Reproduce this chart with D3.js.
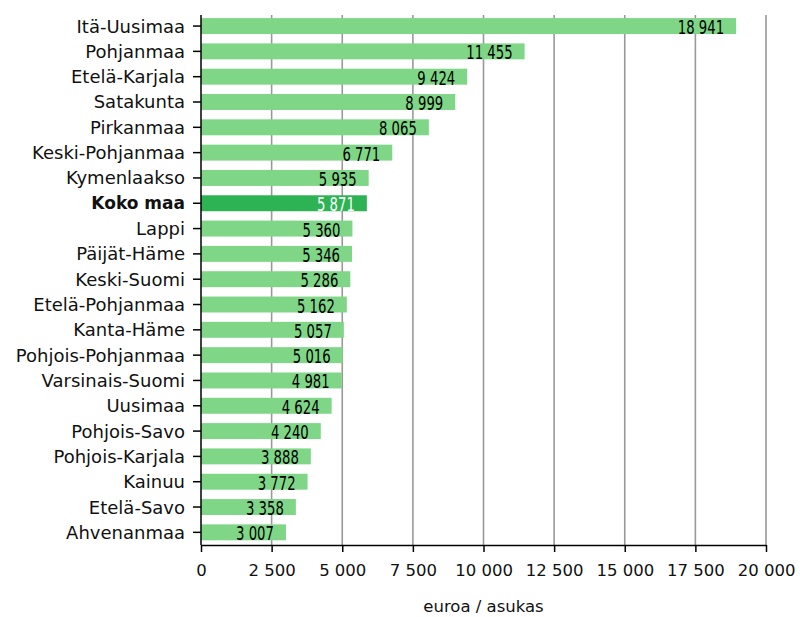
<!DOCTYPE html>
<html>
<head>
<meta charset="utf-8">
<script src="https://cdn.jsdelivr.net/npm/d3@7"></script>
<style>
  body { margin: 0; background: #fff; }
  svg { display: block; }
</style>
</head>
<body>
<svg width="800" height="617"></svg>
<script>
const regions = ["Itä-Uusimaa", "Pohjanmaa", "Etelä-Karjala", "Satakunta", "Pirkanmaa",
  "Keski-Pohjanmaa", "Kymenlaakso", "Koko maa", "Lappi", "Päijät-Häme", "Keski-Suomi",
  "Etelä-Pohjanmaa", "Kanta-Häme", "Pohjois-Pohjanmaa", "Varsinais-Suomi", "Uusimaa",
  "Pohjois-Savo", "Pohjois-Karjala", "Kainuu", "Etelä-Savo", "Ahvenanmaa"];
const values = [18941, 11455, 9424, 8999, 8065, 6771, 5935, 5871, 5360, 5346, 5286,
  5162, 5057, 5016, 4981, 4624, 4240, 3888, 3772, 3358, 3007];
const xTicks = [0, 2500, 5000, 7500, 10000, 12500, 15000, 17500, 20000];
const total = "Koko maa";
const xTitle = "euroa / asukas";

const svg = d3.select("svg");
const mLeft = 201, mRight = 766, mTop = 13.4, mBottom = 545;

const x = d3.scaleLinear().domain([0, 20000]).range([mLeft, mRight]);
const y = d3.scaleBand().domain(regions).range([mTop, mBottom]).paddingInner(0.37).paddingOuter(0.185);

const fmt = v => d3.format(",")(v).replace(/,/g, " ");
const data = regions.map((r, i) => ({ region: r, value: values[i] }));

// grid
svg.append("g")
  .selectAll("line")
  .data(xTicks.filter(t => t > 0))
  .enter()
  .append("line")
  .attr("x1", d => x(d)).attr("x2", d => x(d))
  .attr("y1", 15).attr("y2", mBottom)
  .attr("stroke", "#999")
  .attr("stroke-width", 1.6);

// bars
svg.append("g")
  .selectAll("rect")
  .data(data)
  .enter()
  .append("rect")
  .attr("x", x(0))
  .attr("y", d => y(d.region))
  .attr("width", d => x(d.value) - x(0))
  .attr("height", y.bandwidth())
  .attr("fill", d => d.region === total ? "#2db354" : "#7fd687");

// value labels
svg.append("g")
  .selectAll("text")
  .data(data)
  .enter()
  .append("text")
  .attr("transform", d => `translate(${x(d.value) - 12},${y(d.region) + y.bandwidth() / 2 + 8}) scale(0.92,1.25)`)
  .attr("text-anchor", "end")
  .attr("font-family", "'Liberation Sans Narrow', 'DejaVu Sans Condensed', sans-serif")
  .attr("font-size", 16)
  .attr("fill", d => d.region === total ? "#fff" : "#000")
  .text(d => fmt(d.value));

// y axis
const yAxis = svg.append("g")
  .attr("transform", `translate(${mLeft},0)`)
  .call(d3.axisLeft(y).tickSize(8).tickPadding(8).tickSizeOuter(0));
yAxis.select(".domain").attr("stroke", "#000").attr("stroke-width", 1.5)
  .attr("d", `M0,15V${mBottom}`);
yAxis.selectAll(".tick line").attr("stroke", "#000").attr("stroke-width", 1.5);
yAxis.selectAll(".tick text")
  .attr("font-family", "'DejaVu Sans', sans-serif")
  .attr("font-size", 18)
  .attr("fill", "#111")
  .attr("dy", "0.36em")
  .attr("font-weight", d => d === total ? "bold" : "normal")
  .attr("font-size", d => d === total ? 17 : 18);

// x axis
const xAxis = svg.append("g")
  .attr("transform", `translate(0,${mBottom})`)
  .call(d3.axisBottom(x).tickValues(xTicks).tickFormat(fmt).tickSize(7).tickPadding(12).tickSizeOuter(0));
xAxis.select(".domain").attr("stroke", "#000").attr("stroke-width", 1.5);
xAxis.selectAll(".tick line").attr("stroke", "#000").attr("stroke-width", 1.5);
xAxis.selectAll(".tick text")
  .attr("font-family", "'DejaVu Sans', sans-serif")
  .attr("font-size", 16.5)
  .attr("fill", "#111");

svg.append("text")
  .attr("x", (mLeft + mRight) / 2)
  .attr("y", 612)
  .attr("text-anchor", "middle")
  .attr("font-family", "'DejaVu Sans', sans-serif")
  .attr("font-size", 16.5)
  .attr("fill", "#111")
  .text(xTitle);
</script>
</body>
</html>
